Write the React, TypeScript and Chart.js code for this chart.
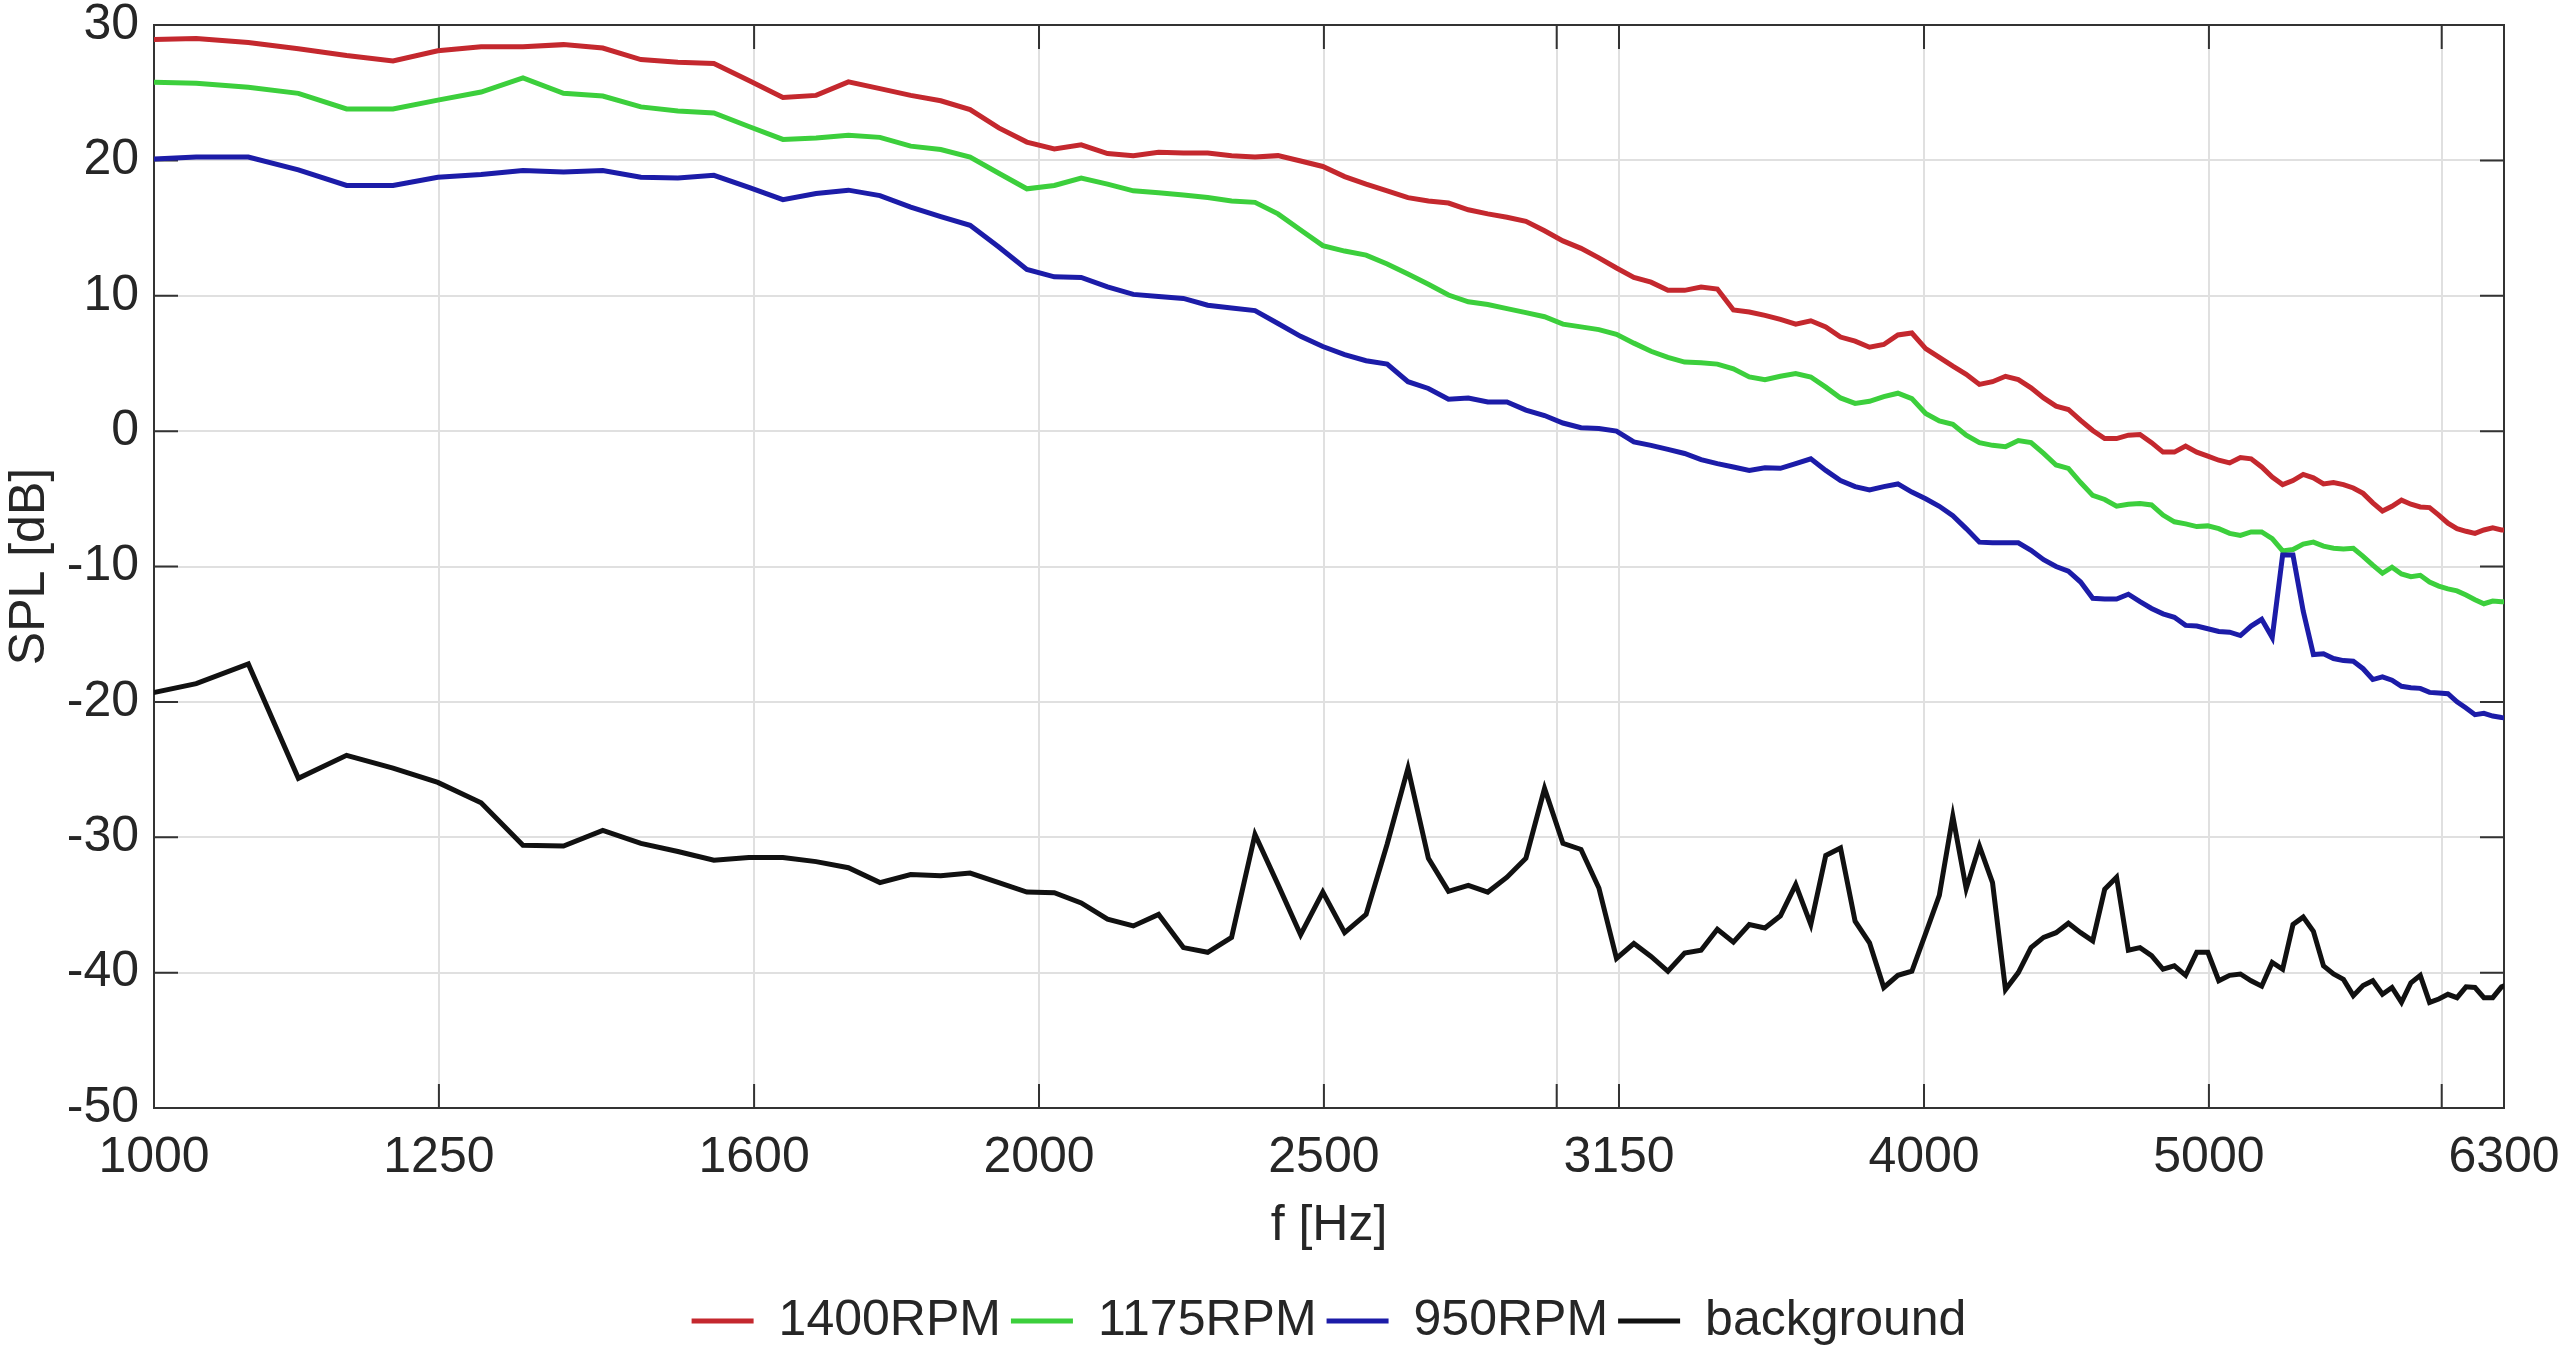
import React, { useEffect, useRef } from "react";
import { Chart, registerables } from "chart.js";

Chart.register(...registerables);

// narrowband spectrum: FFT bins of 44.1 kHz / 1024 points, bins 23..147
const BIN_HZ = 44100 / 1024;
const FIRST_BIN = 23;

const TICKS_HZ = [1000, 1250, 1600, 2000, 2500, 3150, 4000, 5000, 6300];
const EXTRA_GRID_HZ = [3000, 6000];
const Y_MIN = -50;
const Y_MAX = 30;

const SERIES_LABELS = ["1400RPM", "1175RPM", "950RPM", "background"];
const SERIES_COLORS = ["#c4282e", "#3ccf3c", "#1c1ca8", "#111111"];

const SPL_1400 = [
  28.9, 29.0, 28.7, 28.25, 27.75, 27.35, 28.1, 28.4, 28.4, 28.55,
  28.3, 27.45, 27.25, 27.15, 25.9, 24.65, 24.8, 25.8, 25.3, 24.8,
  24.4, 23.75, 22.4, 21.35, 20.85, 21.15, 20.5, 20.35, 20.6, 20.55,
  20.55, 20.35, 20.25, 20.35, 19.95, 19.55, 18.8, 18.25, 17.75, 17.25,
  17.0, 16.85, 16.35, 16.05, 15.8, 15.5, 14.8, 14.05, 13.5, 12.8,
  12.05, 11.35, 11.0, 10.4, 10.4, 10.65, 10.5, 8.95, 8.8, 8.55,
  8.25, 7.9, 8.15, 7.7, 6.95, 6.65, 6.2, 6.4, 7.1, 7.25,
  6.1, 5.45, 4.8, 4.2, 3.45, 3.65, 4.05, 3.8, 3.2, 2.45,
  1.85, 1.6, 0.8, 0.05, -0.55, -0.55, -0.3, -0.25, -0.85, -1.55,
  -1.55, -1.1, -1.55, -1.85, -2.15, -2.35, -1.95, -2.05, -2.65, -3.4,
  -3.95, -3.65, -3.2, -3.45, -3.9, -3.8, -3.95, -4.2, -4.6, -5.3,
  -5.9, -5.55, -5.1, -5.4, -5.6, -5.65, -6.2, -6.8, -7.2, -7.4,
  -7.55, -7.3, -7.15, -7.3, -7.3,
];

const SPL_1175 = [
  25.8, 25.7, 25.4, 24.95, 23.8, 23.8, 24.45, 25.05, 26.1, 24.95,
  24.75, 23.95, 23.65, 23.5, 22.5, 21.55, 21.65, 21.85, 21.7, 21.05,
  20.8, 20.25, 19.05, 17.9, 18.15, 18.7, 18.25, 17.75, 17.6, 17.45,
  17.25, 17.0, 16.9, 16.05, 14.85, 13.7, 13.3, 13.0, 12.35, 11.6,
  10.85, 10.05, 9.55, 9.35, 9.05, 8.75, 8.45, 7.9, 7.7, 7.5,
  7.15, 6.5, 5.9, 5.45, 5.1, 5.05, 4.95, 4.6, 4.0, 3.8,
  4.05, 4.25, 4.0, 3.25, 2.45, 2.05, 2.2, 2.55, 2.8, 2.4,
  1.3, 0.75, 0.5, -0.3, -0.85, -1.05, -1.15, -0.7, -0.85, -1.65,
  -2.5, -2.75, -3.8, -4.75, -5.05, -5.55, -5.4, -5.35, -5.45, -6.2,
  -6.7, -6.85, -7.05, -7.0, -7.2, -7.55, -7.7, -7.45, -7.45, -7.95,
  -8.85, -8.75, -8.35, -8.2, -8.5, -8.65, -8.7, -8.65, -9.25, -9.9,
  -10.5, -10.05, -10.55, -10.75, -10.65, -11.15, -11.45, -11.65, -11.8, -12.1,
  -12.45, -12.75, -12.55, -12.6, -12.6,
];

const SPL_950 = [
  20.05, 20.25, 20.25, 19.3, 18.15, 18.15, 18.75, 18.95, 19.25, 19.15,
  19.25, 18.75, 18.7, 18.9, 18.0, 17.1, 17.55, 17.8, 17.4, 16.55,
  15.85, 15.2, 13.6, 11.95, 11.4, 11.35, 10.65, 10.1, 9.95, 9.8,
  9.3, 9.1, 8.9, 7.95, 7.0, 6.25, 5.65, 5.2, 4.95, 3.65,
  3.15, 2.35, 2.45, 2.15, 2.15, 1.55, 1.15, 0.6, 0.25, 0.2,
  0.0, -0.8, -1.05, -1.35, -1.65, -2.1, -2.4, -2.65, -2.9, -2.7,
  -2.75, -2.4, -2.05, -2.9, -3.65, -4.1, -4.35, -4.1, -3.9, -4.5,
  -5.0, -5.55, -6.25, -7.2, -8.2, -8.25, -8.25, -8.25, -8.8, -9.5,
  -10.0, -10.35, -11.15, -12.35, -12.4, -12.4, -12.05, -12.6, -13.1, -13.5,
  -13.75, -14.35, -14.4, -14.6, -14.8, -14.85, -15.1, -14.4, -13.9, -15.25,
  -9.15, -9.15, -13.3, -16.5, -16.45, -16.8, -16.95, -17.0, -17.55, -18.35,
  -18.15, -18.4, -18.85, -18.95, -19.0, -19.3, -19.35, -19.4, -20.0, -20.45,
  -20.95, -20.85, -21.05, -21.15, -21.2,
];

const SPL_BACKGROUND = [
  -19.5, -18.65, -17.2, -25.65, -23.95, -24.9, -25.95, -27.45, -30.6, -30.65,
  -29.5, -30.45, -31.05, -31.7, -31.5, -31.5, -31.8, -32.25, -33.35, -32.75,
  -32.85, -32.65, -33.35, -34.05, -34.1, -34.85, -36.05, -36.55, -35.7, -38.15,
  -38.5, -37.4, -29.8, -33.5, -37.2, -34.05, -37.05, -35.7, -30.5, -24.9,
  -31.55, -34.0, -33.55, -34.05, -32.95, -31.55, -26.4, -30.45, -30.9, -33.75,
  -38.95, -37.85, -38.8, -39.9, -38.55, -38.35, -36.8, -37.75, -36.45, -36.7,
  -35.8, -33.5, -36.45, -31.35, -30.8, -36.2, -37.8, -41.1, -40.2, -39.9,
  -37.1, -34.3, -28.45, -33.8, -30.65, -33.35, -41.25, -40.0, -38.15, -37.4,
  -37.05, -36.35, -37.05, -37.65, -33.85, -32.95, -38.35, -38.15, -38.75, -39.75,
  -39.5, -40.2, -38.5, -38.5, -40.6, -40.2, -40.1, -40.6, -41.0, -39.25,
  -39.75, -36.45, -35.9, -36.95, -39.5, -40.1, -40.5, -41.7, -40.95, -40.6,
  -41.6, -41.1, -42.2, -40.75, -40.2, -42.2, -41.95, -41.6, -41.85, -41.05,
  -41.1, -41.85, -41.85, -41.05, -40.8,
];

const FONT = "'Liberation Sans', Arial, Helvetica, sans-serif";
const TEXT_COLOR = "#262626";
const GRID_COLOR = "#e0e0e0";
const AXIS_COLOR = "#333333";
const TICK_LEN = 24;

// MATLAB-like box round the axes with inward tick marks
const axesFrame = {
  id: "axesFrame",
  beforeDatasetsDraw(chart: Chart) {
    const { ctx, chartArea: a, scales } = chart;
    ctx.save();
    ctx.strokeStyle = AXIS_COLOR;
    ctx.lineWidth = 2;
    ctx.beginPath();
    scales.x.ticks.forEach((t) => {
      const px = scales.x.getPixelForValue(t.value);
      ctx.moveTo(px, a.bottom);
      ctx.lineTo(px, a.bottom - TICK_LEN);
      ctx.moveTo(px, a.top);
      ctx.lineTo(px, a.top + TICK_LEN);
    });
    scales.y.ticks.forEach((t) => {
      const py = scales.y.getPixelForValue(t.value);
      ctx.moveTo(a.left, py);
      ctx.lineTo(a.left + TICK_LEN, py);
      ctx.moveTo(a.right, py);
      ctx.lineTo(a.right - TICK_LEN, py);
    });
    ctx.stroke();
    ctx.strokeRect(a.left, a.top, a.right - a.left, a.bottom - a.top);
    ctx.restore();
  },
};

export default function App() {
  const canvasRef = useRef<HTMLCanvasElement | null>(null);
  const chartRef = useRef<Chart<"line"> | null>(null);

  useEffect(() => {
    if (!canvasRef.current) return;
    if (chartRef.current) chartRef.current.destroy();

    const freqs = SPL_1400.map((_, i) => (FIRST_BIN + i) * BIN_HZ);
    const series = [SPL_1400, SPL_1175, SPL_950, SPL_BACKGROUND];
    const xGrid = [...TICKS_HZ, ...EXTRA_GRID_HZ].sort((a, b) => a - b);

    // reversed so that later curves are drawn on top, legend reversed back
    const datasets = series
      .map((values, i) => ({
        label: SERIES_LABELS[i],
        data: values.map((y, k) => ({ x: freqs[k], y })),
        borderColor: SERIES_COLORS[i],
        backgroundColor: SERIES_COLORS[i],
        borderWidth: 5,
        pointBorderWidth: 5,
        pointRadius: 0,
        tension: 0,
        clip: 0,
      }))
      .reverse();

    chartRef.current = new Chart(canvasRef.current, {
      type: "line",
      data: { datasets },
      options: {
        responsive: false,
        animation: false,
        devicePixelRatio: 1,
        layout: { padding: { top: 25, right: 62, bottom: 0, left: 0 } },
        plugins: {
          legend: {
            position: "bottom",
            fullSize: false,
            reverse: true,
            labels: {
              usePointStyle: true,
              pointStyle: "line",
              pointStyleWidth: 62,
              padding: 10,
              color: TEXT_COLOR,
              font: { family: FONT, size: 50 },
            },
          },
          tooltip: { enabled: false },
        },
        scales: {
          x: {
            type: "logarithmic",
            min: 1000,
            max: 6300,
            afterBuildTicks: (scale) => {
              scale.ticks = xGrid.map((value) => ({ value }));
            },
            afterFit: (scale) => {
              scale.height = 178;
              scale.paddingLeft = 0;
              scale.paddingRight = 0;
            },
            ticks: {
              autoSkip: false,
              maxRotation: 0,
              padding: 20,
              color: TEXT_COLOR,
              font: { family: FONT, size: 50 },
              callback: (value) =>
                TICKS_HZ.includes(Number(value)) ? String(value) : "",
            },
            grid: { color: GRID_COLOR, lineWidth: 2, drawTicks: false },
            border: { display: false },
            title: {
              display: true,
              text: "f [Hz]",
              color: TEXT_COLOR,
              font: { family: FONT, size: 50 },
              padding: { top: 0, bottom: 30 },
            },
          },
          y: {
            min: Y_MIN,
            max: Y_MAX,
            afterFit: (scale) => {
              scale.width = 154;
              scale.paddingTop = 0;
              scale.paddingBottom = 0;
            },
            ticks: {
              stepSize: 10,
              padding: 15,
              color: TEXT_COLOR,
              font: { family: FONT, size: 50, lineHeight: 1 },
            },
            grid: { color: GRID_COLOR, lineWidth: 2, drawTicks: false },
            border: { display: false },
            title: {
              display: true,
              text: "SPL [dB]",
              color: TEXT_COLOR,
              font: { family: FONT, size: 50 },
              padding: { top: 0, bottom: 0 },
            },
          },
        },
      },
      plugins: [axesFrame],
    });

    return () => {
      if (chartRef.current) {
        chartRef.current.destroy();
        chartRef.current = null;
      }
    };
  }, []);

  return (
    <div
      style={{
        position: "absolute",
        left: 0,
        top: 0,
        width: 2566,
        height: 1356,
        background: "#ffffff",
      }}
    >
      <canvas ref={canvasRef} width={2566} height={1356} />
    </div>
  );
}
